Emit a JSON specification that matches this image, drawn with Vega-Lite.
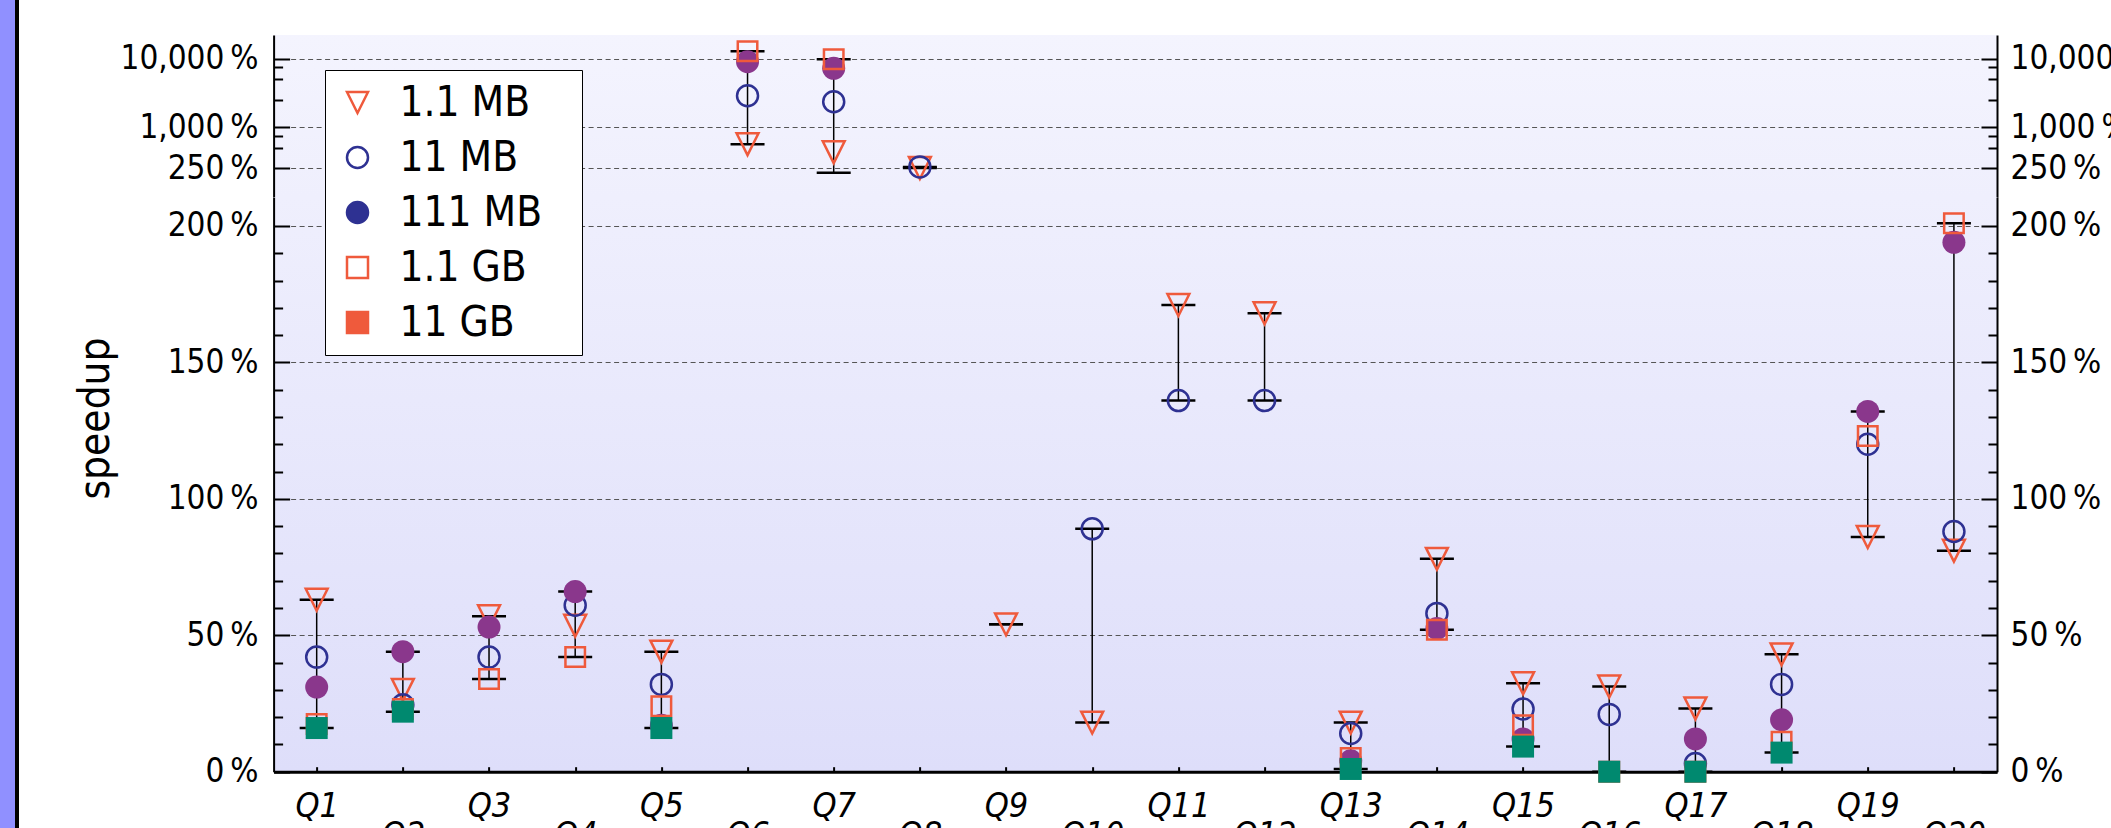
{
  "$schema": "https://vega.github.io/schema/vega-lite/v6.json",
  "autosize": {"type": "none"},
  "padding": {"left": 0, "top": 0, "right": 2111, "bottom": 828},
  "background": "white",
  "datasets": {
    "points": [
      {"q": "Q1", "s": "1.1 MB", "v": 63}, {"q": "Q2", "s": "1.1 MB", "v": 30}, {"q": "Q3", "s": "1.1 MB", "v": 57}, {"q": "Q4", "s": "1.1 MB", "v": 53.5}, {"q": "Q5", "s": "1.1 MB", "v": 44},
      {"q": "Q6", "s": "1.1 MB", "v": 564}, {"q": "Q7", "s": "1.1 MB", "v": 430}, {"q": "Q8", "s": "1.1 MB", "v": 252}, {"q": "Q9", "s": "1.1 MB", "v": 54}, {"q": "Q10", "s": "1.1 MB", "v": 18},
      {"q": "Q11", "s": "1.1 MB", "v": 171}, {"q": "Q12", "s": "1.1 MB", "v": 168}, {"q": "Q13", "s": "1.1 MB", "v": 18}, {"q": "Q14", "s": "1.1 MB", "v": 78}, {"q": "Q15", "s": "1.1 MB", "v": 32.4},
      {"q": "Q16", "s": "1.1 MB", "v": 31.2}, {"q": "Q17", "s": "1.1 MB", "v": 23.2}, {"q": "Q18", "s": "1.1 MB", "v": 43}, {"q": "Q19", "s": "1.1 MB", "v": 86}, {"q": "Q20", "s": "1.1 MB", "v": 81},
      {"q": "Q1", "s": "11 MB", "v": 42}, {"q": "Q2", "s": "11 MB", "v": 24.5}, {"q": "Q3", "s": "11 MB", "v": 42}, {"q": "Q4", "s": "11 MB", "v": 61}, {"q": "Q5", "s": "11 MB", "v": 32},
      {"q": "Q6", "s": "11 MB", "v": 2890}, {"q": "Q7", "s": "11 MB", "v": 2360}, {"q": "Q8", "s": "11 MB", "v": 262}, {"q": "Q10", "s": "11 MB", "v": 89}, {"q": "Q11", "s": "11 MB", "v": 136},
      {"q": "Q12", "s": "11 MB", "v": 136}, {"q": "Q13", "s": "11 MB", "v": 14}, {"q": "Q14", "s": "11 MB", "v": 58}, {"q": "Q15", "s": "11 MB", "v": 23}, {"q": "Q16", "s": "11 MB", "v": 21},
      {"q": "Q17", "s": "11 MB", "v": 3}, {"q": "Q18", "s": "11 MB", "v": 32}, {"q": "Q19", "s": "11 MB", "v": 120}, {"q": "Q20", "s": "11 MB", "v": 88},
      {"q": "Q1", "s": "111 MB", "v": 31}, {"q": "Q2", "s": "111 MB", "v": 44}, {"q": "Q3", "s": "111 MB", "v": 53}, {"q": "Q4", "s": "111 MB", "v": 66}, {"q": "Q5", "s": "111 MB", "v": 17},
      {"q": "Q6", "s": "111 MB", "v": 9100}, {"q": "Q7", "s": "111 MB", "v": 7280}, {"q": "Q13", "s": "111 MB", "v": 4}, {"q": "Q14", "s": "111 MB", "v": 52.5}, {"q": "Q15", "s": "111 MB", "v": 12},
      {"q": "Q17", "s": "111 MB", "v": 12}, {"q": "Q18", "s": "111 MB", "v": 19}, {"q": "Q19", "s": "111 MB", "v": 132}, {"q": "Q20", "s": "111 MB", "v": 194},
      {"q": "Q1", "s": "1.1 GB", "v": 17.5}, {"q": "Q2", "s": "1.1 GB", "v": 23}, {"q": "Q3", "s": "1.1 GB", "v": 34}, {"q": "Q4", "s": "1.1 GB", "v": 42}, {"q": "Q5", "s": "1.1 GB", "v": 24},
      {"q": "Q6", "s": "1.1 GB", "v": 12900}, {"q": "Q7", "s": "1.1 GB", "v": 9860}, {"q": "Q13", "s": "1.1 GB", "v": 5}, {"q": "Q14", "s": "1.1 GB", "v": 52}, {"q": "Q15", "s": "1.1 GB", "v": 17},
      {"q": "Q16", "s": "1.1 GB", "v": 0}, {"q": "Q17", "s": "1.1 GB", "v": 0}, {"q": "Q18", "s": "1.1 GB", "v": 11}, {"q": "Q19", "s": "1.1 GB", "v": 123}, {"q": "Q20", "s": "1.1 GB", "v": 201},
      {"q": "Q1", "s": "11 GB", "v": 16}, {"q": "Q2", "s": "11 GB", "v": 22}, {"q": "Q5", "s": "11 GB", "v": 16}, {"q": "Q13", "s": "11 GB", "v": 1}, {"q": "Q15", "s": "11 GB", "v": 9.2},
      {"q": "Q16", "s": "11 GB", "v": 0}, {"q": "Q17", "s": "11 GB", "v": 0}, {"q": "Q18", "s": "11 GB", "v": 7}
    ],
    "ranges": [
      {"q": "Q1", "lo": 16, "hi": 63}, {"q": "Q2", "lo": 22, "hi": 44}, {"q": "Q3", "lo": 34, "hi": 57}, {"q": "Q4", "lo": 42, "hi": 66},
      {"q": "Q5", "lo": 16, "hi": 44}, {"q": "Q6", "lo": 564, "hi": 12900}, {"q": "Q7", "lo": 216, "hi": 9860}, {"q": "Q8", "lo": 252, "hi": 262},
      {"q": "Q9", "lo": 54, "hi": 54}, {"q": "Q10", "lo": 18, "hi": 89}, {"q": "Q11", "lo": 136, "hi": 171}, {"q": "Q12", "lo": 136, "hi": 168},
      {"q": "Q13", "lo": 1, "hi": 18}, {"q": "Q14", "lo": 52, "hi": 78}, {"q": "Q15", "lo": 9.2, "hi": 32.4}, {"q": "Q16", "lo": 0, "hi": 31.2},
      {"q": "Q17", "lo": 0, "hi": 23.2}, {"q": "Q18", "lo": 7, "hi": 43}, {"q": "Q19", "lo": 86, "hi": 132}, {"q": "Q20", "lo": 81, "hi": 201}
    ]
  },
  "config": {
    "view": {"stroke": null},
    "axis": {
      "labelFont": "DejaVu Sans Condensed, DejaVu Sans",
      "titleFont": "DejaVu Sans Condensed, DejaVu Sans",
      "labelColor": "black", "titleColor": "black", "domainColor": "black", "tickColor": "black",
      "labelFontWeight": "normal", "titleFontWeight": "normal"
    },
    "legend": {"labelFont": "DejaVu Sans Condensed, DejaVu Sans", "labelColor": "black"}
  },
  "spacing": 254.6,
  "bounds": "flush",
  "resolve": {
    "scale": {"y": "independent", "shape": "independent", "fill": "independent", "stroke": "independent"},
    "legend": {"shape": "independent", "fill": "independent", "stroke": "independent"}
  },
  "hconcat": [
    {
      "data": {"values": []},
      "mark": "point",
      "width": 19,
      "height": 828,
      "view": {"stroke": null, "fill": {"gradient": "linear", "x1": 0, "y1": 0, "x2": 1, "y2": 0, "stops": [{"offset": 0, "color": "#9090ff"}, {"offset": 0.78, "color": "#9090ff"}, {"offset": 0.79, "color": "#000000"}, {"offset": 1, "color": "#000000"}]}}
    },
    {
      "spacing": 0,
      "bounds": "flush",
      "resolve": {
        "scale": {"y": "independent", "shape": "independent", "fill": "independent", "stroke": "independent"},
        "legend": {"shape": "independent", "fill": "independent", "stroke": "independent"}
      },
      "vconcat": [
        {"data": {"values": []}, "mark": "point", "width": 1723.4, "height": 35, "view": {"stroke": null}},
        {
          "width": 1723.4,
          "height": 162,
          "view": {"stroke": null, "fill": {"gradient": "linear", "x1": 0, "y1": 0, "x2": 0, "y2": 1, "stops": [{"offset": 0, "color": "#f4f4fe"}, {"offset": 1, "color": "#efeffd"}]}},
          "resolve": {"axis": {"y": "independent"}},
          "layer": [
            {
              "data": {"name": "ranges"},
              "transform": [{"filter": "datum.hi > 210.6"}],
              "mark": {"type": "rule", "color": "black", "strokeWidth": 1.5},
              "encoding": {
                "x": {"field": "q", "type": "nominal", "sort": null,
                  "scale": {"type": "point", "padding": 0.5, "domain": ["Q1","Q2","Q3","Q4","Q5","Q6","Q7","Q8","Q9","Q10","Q11","Q12","Q13","Q14","Q15","Q16","Q17","Q18","Q19","Q20"]},
                  "axis": {"orient": "top", "labels": false, "title": null, "tickSize": -5, "tickWidth": 2, "domainWidth": 2, "grid": false}},
                "y": {"field": "lo", "type": "quantitative",
                  "scale": {"type": "log", "domain": [95, 22370], "nice": false},
                  "axis": {"orient": "left", "title": null,
                    "values": [250, 500, 750, 1000, 2500, 5000, 7500, 10000],
                    "labelExpr": "indexof([250,1000,10000], datum.value) >= 0 ? format(datum.value, ',') + '\u2009%' : ''",
                    "labelFontSize": 33, "labelPadding": 31.6,
                    "grid": true, "gridDash": [5, 3.5], "gridColor": "#555555", "gridWidth": 1.2,
                    "gridOpacity": {"condition": {"test": "indexof([250,1000,10000], datum.value) >= 0", "value": 1}, "value": 0},
                    "tickSize": {"condition": {"test": "indexof([250,1000,10000], datum.value) >= 0", "value": -16}, "value": -9},
                    "tickWidth": 2, "domainWidth": 2}},
                "y2": {"field": "hi"}
              }
            },
            {
              "data": {"name": "ranges"},
              "transform": [{"filter": "datum.hi > 210.6"}],
              "mark": {"type": "tick", "color": "black", "size": 34, "thickness": 2.5, "opacity": 1},
              "encoding": {
                "x": {"field": "q", "type": "nominal", "sort": null, "scale": {"type": "point", "padding": 0.5}, "axis": null},
                "y": {"field": "lo", "type": "quantitative", "scale": {"type": "log", "domain": [95, 22370], "nice": false},
                  "axis": {"orient": "right", "title": null,
                    "values": [250, 500, 750, 1000, 2500, 5000, 7500, 10000],
                    "labelExpr": "indexof([250,1000,10000], datum.value) >= 0 ? format(datum.value, ',') + '\u2009%' : ''",
                    "labelFontSize": 33, "labelPadding": 29, "grid": false,
                    "tickSize": {"condition": {"test": "indexof([250,1000,10000], datum.value) >= 0", "value": -16}, "value": -9},
                    "tickWidth": 2, "domainWidth": 2}}
              }
            },
            {
              "data": {"name": "ranges"},
              "transform": [{"filter": "datum.hi > 210.6"}],
              "mark": {"type": "tick", "color": "black", "size": 34, "thickness": 2.5, "opacity": 1},
              "encoding": {
                "x": {"field": "q", "type": "nominal", "sort": null, "scale": {"type": "point", "padding": 0.5}, "axis": null},
                "y": {"field": "hi", "type": "quantitative", "scale": {"type": "log", "domain": [95, 22370], "nice": false}, "axis": null}
              }
            },
            {
              "data": {"name": "points"},
              "transform": [{"filter": "datum.v > 210.6"}],
              "mark": {"type": "point", "strokeWidth": 2.5, "opacity": 1},
              "encoding": {
                "x": {"field": "q", "type": "nominal", "sort": null, "scale": {"type": "point", "padding": 0.5}, "axis": null},
                "y": {"field": "v", "type": "quantitative", "scale": {"type": "log", "domain": [95, 22370], "nice": false}, "axis": null},
                "shape": {"condition": [{"test": "datum.s === '1.1 MB'", "value": "M-1,-1L1,-1L0,1Z"}, {"test": "datum.s === '11 MB' || datum.s === '111 MB'", "value": "circle"}], "value": "square"},
                "fill": {"condition": [{"test": "datum.s === '111 MB'", "value": "#8a378c"}, {"test": "datum.s === '11 GB'", "value": "#00896f"}], "value": "transparent"},
                "stroke": {"condition": [{"test": "datum.s === '11 MB'", "value": "#2e3192"}, {"test": "datum.s === '111 MB' || datum.s === '11 GB'", "value": "transparent"}], "value": "#ef5a3c"},
                "size": {"condition": [{"test": "datum.s === '111 MB'", "value": 529}, {"test": "datum.s === '11 GB'", "value": 484}, {"test": "datum.s === '1.1 GB'", "value": 380}, {"test": "datum.s === '1.1 MB'", "value": 480}], "value": 441}
              }
            }
          ]
        },
        {
          "width": 1723.4,
          "height": 574.7,
          "view": {"stroke": null, "fill": {"gradient": "linear", "x1": 0, "y1": 0, "x2": 0, "y2": 1, "stops": [{"offset": 0, "color": "#efeffd"}, {"offset": 1, "color": "#dedefa"}]}},
          "resolve": {"axis": {"y": "independent", "x": "independent"}},
          "layer": [
            {
              "data": {"name": "ranges"},
              "transform": [{"filter": "datum.hi <= 210.6"}],
              "mark": {"type": "rule", "color": "black", "strokeWidth": 1.5},
              "encoding": {
                "x": {"field": "q", "type": "nominal", "sort": null,
                  "scale": {"type": "point", "padding": 0.5, "domain": ["Q1","Q2","Q3","Q4","Q5","Q6","Q7","Q8","Q9","Q10","Q11","Q12","Q13","Q14","Q15","Q16","Q17","Q18","Q19","Q20"]},
                  "axis": {"orient": "bottom", "title": null, "tickSize": -5, "tickWidth": 2, "domainWidth": 3, "grid": false,
                    "labelAngle": 0, "labelFontSize": 34, "labelFontStyle": "italic", "labelOverlap": false, "labelPadding": 23,
                    "labelExpr": "indexof(['Q1','Q3','Q5','Q7','Q9','Q11','Q13','Q15','Q17','Q19'], datum.value) >= 0 ? datum.value : ''"}},
                "y": {"field": "lo", "type": "quantitative",
                  "scale": {"domain": [0, 210.6], "nice": false, "zero": false},
                  "axis": {"orient": "left", "title": "speedup", "titleFontSize": 42, "titleX": -165.6, "titleY": 221, "titleBaseline": "alphabetic", "titleAngle": 270,
                    "values": [0,10,20,30,40,50,60,70,80,90,100,110,120,130,140,150,160,170,180,190,200],
                    "labelExpr": "datum.value % 50 === 0 ? datum.value + '\u2009%' : ''",
                    "labelFontSize": 33, "labelPadding": 31.6,
                    "grid": true, "gridDash": [5, 3.5], "gridColor": "#555555", "gridWidth": 1.2,
                    "gridOpacity": {"condition": {"test": "datum.value % 50 === 0 && datum.value > 0", "value": 1}, "value": 0},
                    "tickSize": {"condition": {"test": "datum.value % 50 === 0", "value": -16}, "value": -9},
                    "tickWidth": 2, "domainWidth": 2}},
                "y2": {"field": "hi"}
              }
            },
            {
              "data": {"name": "ranges"},
              "transform": [{"filter": "datum.hi <= 210.6"}],
              "mark": {"type": "tick", "color": "black", "size": 34, "thickness": 2.5, "opacity": 1},
              "encoding": {
                "x": {"field": "q", "type": "nominal", "sort": null, "scale": {"type": "point", "padding": 0.5},
                  "axis": {"orient": "bottom", "title": null, "domain": false, "ticks": false, "grid": false,
                    "labelAngle": 0, "labelFontSize": 34, "labelFontStyle": "italic", "labelOverlap": false, "labelPadding": 47,
                    "labelExpr": "indexof(['Q2','Q4','Q6','Q8','Q10','Q12','Q14','Q16','Q18','Q20'], datum.value) >= 0 ? datum.value : ''"}},
                "y": {"field": "lo", "type": "quantitative", "scale": {"domain": [0, 210.6], "nice": false, "zero": false},
                  "axis": {"orient": "right", "title": null,
                    "values": [0,10,20,30,40,50,60,70,80,90,100,110,120,130,140,150,160,170,180,190,200],
                    "labelExpr": "datum.value % 50 === 0 ? datum.value + '\u2009%' : ''",
                    "labelFontSize": 33, "labelPadding": 29, "grid": false,
                    "tickSize": {"condition": {"test": "datum.value % 50 === 0", "value": -16}, "value": -9},
                    "tickWidth": 2, "domainWidth": 2}}
              }
            },
            {
              "data": {"name": "ranges"},
              "transform": [{"filter": "datum.hi <= 210.6"}],
              "mark": {"type": "tick", "color": "black", "size": 34, "thickness": 2.5, "opacity": 1},
              "encoding": {
                "x": {"field": "q", "type": "nominal", "sort": null, "scale": {"type": "point", "padding": 0.5}, "axis": null},
                "y": {"field": "hi", "type": "quantitative", "scale": {"domain": [0, 210.6], "nice": false, "zero": false}, "axis": null}
              }
            },
            {
              "data": {"name": "points"},
              "transform": [{"filter": "datum.v <= 210.6"}],
              "mark": {"type": "point", "strokeWidth": 2.5, "opacity": 1},
              "encoding": {
                "x": {"field": "q", "type": "nominal", "sort": null, "scale": {"type": "point", "padding": 0.5}, "axis": null},
                "y": {"field": "v", "type": "quantitative", "scale": {"domain": [0, 210.6], "nice": false, "zero": false}, "axis": null},
                "shape": {"condition": [{"test": "datum.s === '1.1 MB'", "value": "M-1,-1L1,-1L0,1Z"}, {"test": "datum.s === '11 MB' || datum.s === '111 MB'", "value": "circle"}], "value": "square"},
                "fill": {"condition": [{"test": "datum.s === '111 MB'", "value": "#8a378c"}, {"test": "datum.s === '11 GB'", "value": "#00896f"}], "value": "transparent"},
                "stroke": {"condition": [{"test": "datum.s === '11 MB'", "value": "#2e3192"}, {"test": "datum.s === '111 MB' || datum.s === '11 GB'", "value": "transparent"}], "value": "#ef5a3c"},
                "size": {"condition": [{"test": "datum.s === '111 MB'", "value": 529}, {"test": "datum.s === '11 GB'", "value": 484}, {"test": "datum.s === '1.1 GB'", "value": 380}, {"test": "datum.s === '1.1 MB'", "value": 480}], "value": 441}
              }
            },
            {
              "data": {"name": "points"},
              "transform": [{"filter": "false"}],
              "mark": {"type": "point", "strokeWidth": 2.5, "opacity": 1},
              "encoding": {
                "shape": {"field": "s", "type": "nominal",
                  "scale": {"domain": ["1.1 MB", "11 MB", "111 MB", "1.1 GB", "11 GB"], "range": ["M-1,-1L1,-1L0,1Z", "circle", "circle", "square", "square"]},
                  "legend": {"title": null, "orient": "none", "legendX": 51.4, "legendY": -127, "strokeColor": "black", "fillColor": "white", "padding": 11.5, "rowPadding": 13, "labelFontSize": 42, "labelLimit": 400, "symbolSize": 441, "symbolStrokeWidth": 2.5, "labelOffset": 21, "labelExpr": "datum.label + '\u2800'"}},
                "fill": {"field": "s", "type": "nominal",
                  "scale": {"domain": ["1.1 MB", "11 MB", "111 MB", "1.1 GB", "11 GB"], "range": ["transparent", "transparent", "#2e3192", "transparent", "#ef5a3c"]},
                  "legend": {"title": null, "orient": "none", "legendX": 51.4, "legendY": -127, "strokeColor": "black", "fillColor": "white", "padding": 11.5, "rowPadding": 13, "labelFontSize": 42, "labelLimit": 400, "symbolSize": 441, "symbolStrokeWidth": 2.5, "labelOffset": 21, "labelExpr": "datum.label + '\u2800'"}},
                "stroke": {"field": "s", "type": "nominal",
                  "scale": {"domain": ["1.1 MB", "11 MB", "111 MB", "1.1 GB", "11 GB"], "range": ["#ef5a3c", "#2e3192", "#2e3192", "#ef5a3c", "#ef5a3c"]},
                  "legend": {"title": null, "orient": "none", "legendX": 51.4, "legendY": -127, "strokeColor": "black", "fillColor": "white", "padding": 11.5, "rowPadding": 13, "labelFontSize": 42, "labelLimit": 400, "symbolSize": 441, "symbolStrokeWidth": 2.5, "labelOffset": 21, "labelExpr": "datum.label + '\u2800'"}}
              }
            }
          ]
        }
      ]
    }
  ]
}
